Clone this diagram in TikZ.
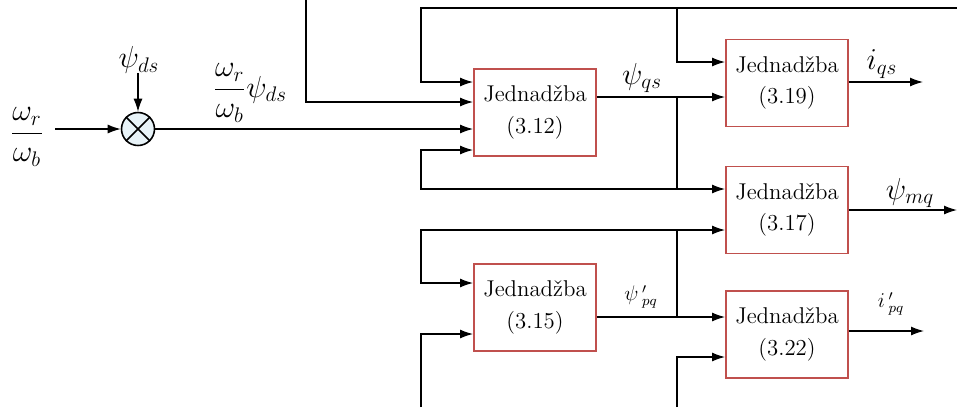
\documentclass[tikz,border=0pt]{standalone}
\usepackage{amsmath}
\usetikzlibrary{arrows.meta, positioning}
\definecolor{boxred}{RGB}{192,80,77}
\definecolor{mulfill}{RGB}{232,243,248}

\begin{document}
\begin{tikzpicture}[x=0.02cm, y=-0.02cm, line width=0.7pt,
                >={Latex[length=2.6mm,width=1.8mm]},
                eqbox/.style={draw=boxred, line width=1.1pt, align=center, minimum width=2.44cm,
                              minimum height=1.74cm, font=\fontsize{13}{18}\selectfont},
                lbl/.style={inner sep=1pt, font=\fontsize{17}{20}\selectfont}]
                \useasboundingbox (0,0) rectangle (957,407);
                \node[eqbox] (eqA) at (535,112.5) {Jednadžba\\(3.12)};
                \node[eqbox] (eqB) at (787,83)    {Jednadžba\\(3.19)};
                \node[eqbox] (eqC) at (787,210)   {Jednadžba\\(3.17)};
                \node[eqbox] (eqD) at (535,307.5) {Jednadžba\\(3.15)};
                \node[eqbox] (eqE) at (787,334.5) {Jednadžba\\(3.22)};
                \node[draw, circle, fill=mulfill, minimum size=0.66cm, inner sep=0pt, line width=0.9pt] (mul) at (138,129) {};
                \draw[line width=0.9pt] (mul.north west) -- (mul.south east) (mul.north east) -- (mul.south west);
                % labels
                \node[lbl] (wrb)  at (27,137)  {$\dfrac{\omega_r}{\omega_b}$};
                \node[lbl] (pds)  at (139,60)  {$\psi_{ds}$};
                \node[lbl] (wpds) at (250,93)  {$\dfrac{\omega_r}{\omega_b}\psi_{ds}$};
                \node[lbl] (pqs)  at (642,78)  {$\psi_{qs}$};
                \node[lbl] (iqs)  at (882,64)  {$i_{qs}$};
                \node[lbl] (pmq)  at (910,193) {$\psi_{mq}$};
                \node[inner sep=1pt, font=\large] (ppq) at (641,297) {$\psi\,'_{pq}$};
                \node[inner sep=1pt, font=\large] (ipq) at (891,304) {$i\,'_{pq}$};
                \coordinate (inA) at (55,129);
                \coordinate (topR) at (957,8);
                \coordinate (splitQ) at (677,97);
                \coordinate (splitP) at (677,317);
                % left part
                \draw[->] (inA) -- (mul);
                \draw[->] (mul |- 0,73) -- (mul.north);
                \draw[->] (mul.east) -- (eqA.west |- mul);
                \draw[->] (306,0) -- (306,102) -- (eqA.west |- 0,102);
                % top line
                \draw[->] (topR) -- (421,8) -- (421,82) -- (eqA.west |- 0,82);
                \draw[->] (677,8) -- (677,62) -- (eqB.west |- 0,62);
                % psi_qs
                \draw[->] (eqA.east |- splitQ) -- (eqB.west |- splitQ);
                \draw[->] (splitQ) -- (677,189) -- (421,189) -- (421,150) -- (eqA.west |- 0,150);
                \draw[->] (677,189) -- (eqC.west |- 0,189);
                % psi'_pq
                \draw[->] (eqD.east |- splitP) -- (eqE.west |- splitP);
                \draw[->] (splitP) -- (677,230) -- (421,230) -- (421,283) -- (eqD.west |- 0,283);
                \draw[->] (677,230) -- (eqC.west |- 0,230);
                \draw[->] (421,407) -- (421,334) -- (eqD.west |- 0,334);
                \draw[->] (677,407) -- (677,357) -- (eqE.west |- 0,357);
                % outputs
                \draw[->] (eqB.east |- 0,82) -- (923,82);
                \draw[->] (eqC.east |- 0,210) -- (957,210);
                \draw[->] (eqE.east |- 0,331) -- (924,331);
            \end{tikzpicture}
\end{document}
